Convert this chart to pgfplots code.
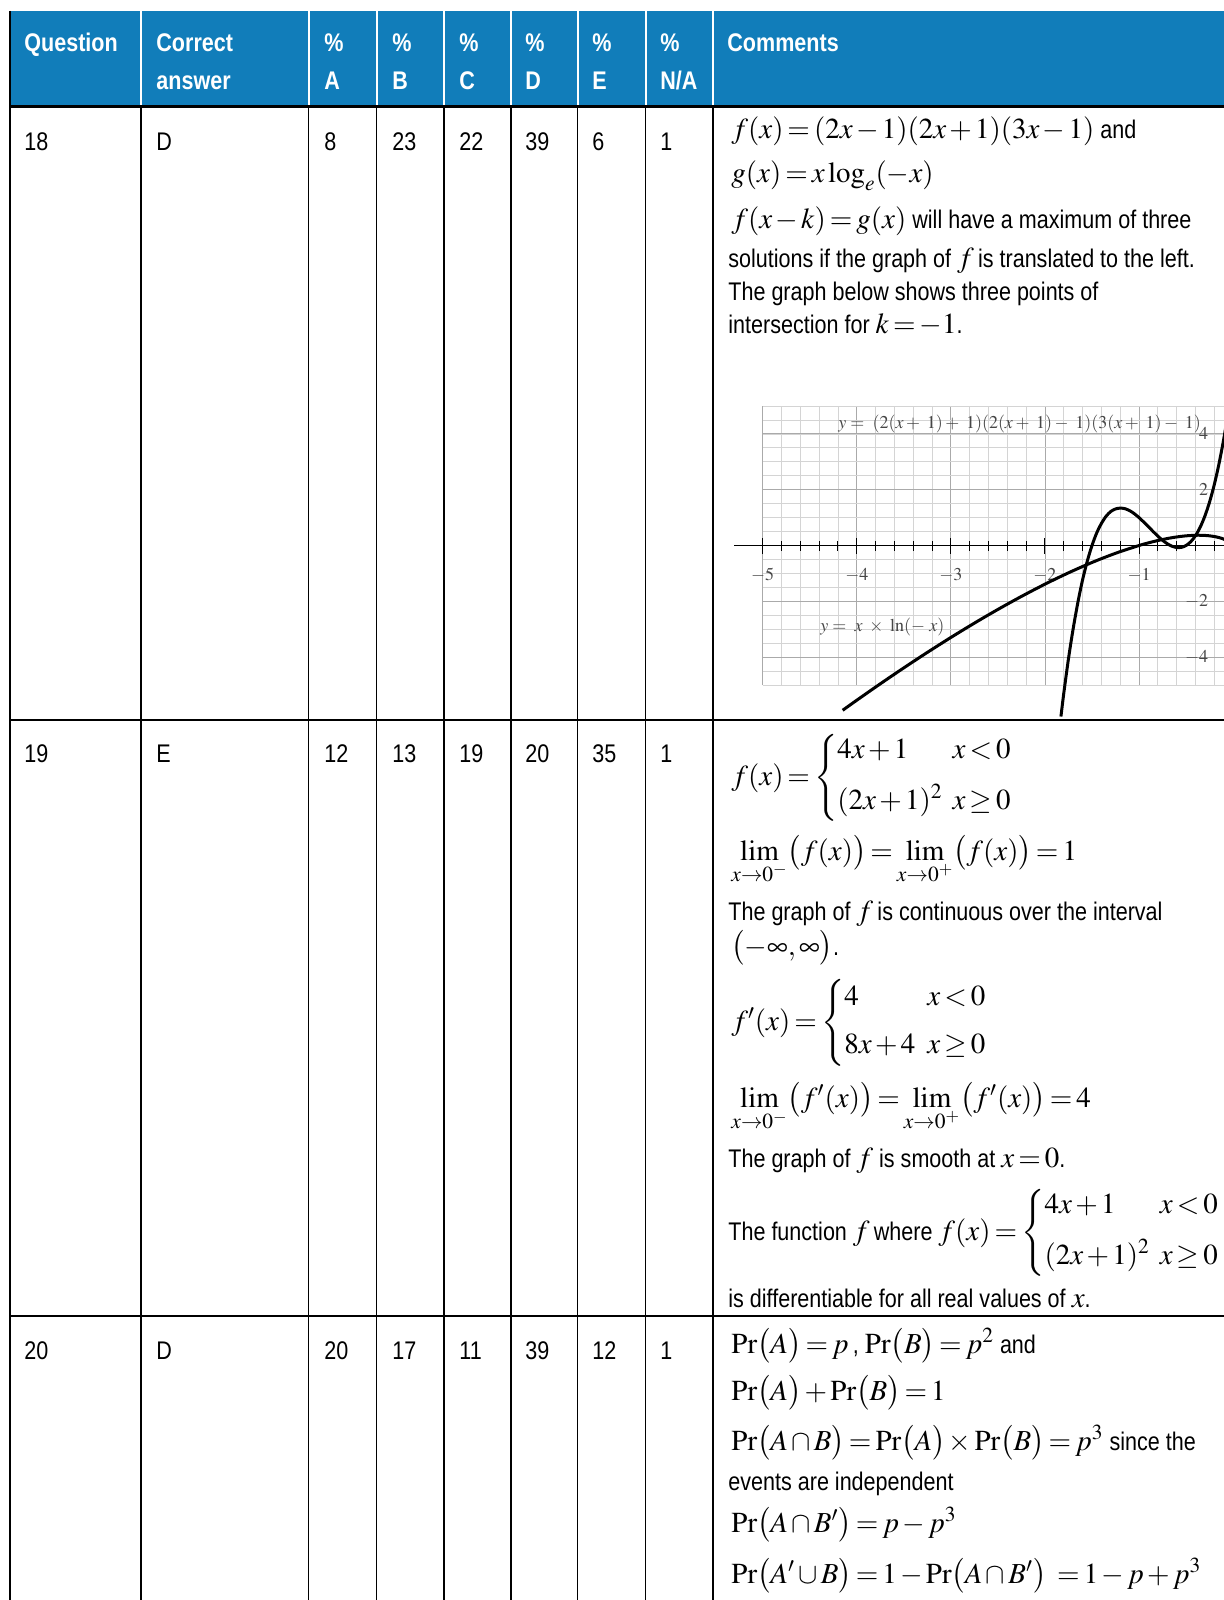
\documentclass[border=0pt]{standalone}
\usepackage{mathptmx}
\usepackage[no-math]{fontspec}
\setmainfont{Liberation Sans}[FakeStretch=0.845]
\usepackage{pgfplots}
\pgfplotsset{compat=1.18}

\definecolor{HeadBlue}{RGB}{17,125,186}
\definecolor{GridMajor}{RGB}{170,170,170}
\definecolor{GridMinor}{RGB}{212,212,212}
\definecolor{LabelGray}{RGB}{70,70,70}

\newcommand{\body}{\fontsize{12.75pt}{15pt}\selectfont}
\newcommand{\M}[1]{{\fontsize{14.5pt}{16pt}\selectfont\thickmuskip=2.5mu\medmuskip=2mu$#1$}}
\newcommand{\glabel}{\fontsize{9pt}{10pt}\selectfont}

\begin{document}
\begin{tikzpicture}
\useasboundingbox (0,0) rectangle (612pt,-800pt);
\clip (0,0) rectangle (612pt,-800pt);

% table, in pixel units of the reference
\begin{scope}[x=0.5pt,y=-0.5pt]
  \fill[HeadBlue] (10,11) rectangle (1240,107);
  \foreach \c in {141,308.5,376.5,444,511,577.5,645.5,713}
    \draw[white, line width=1pt] (\c,11) -- (\c,106);
  \foreach \c in {10,141,308.5,376.5,444,511,577.5,645.5,713}
    \draw[black, line width=0.75pt] (\c,107) -- (\c,1610);
  \draw[black, line width=0.75pt] (10,11) -- (10,107);
  \draw[black, line width=1.5pt] (9,107) -- (1240,107);
  \draw[black, line width=0.75pt] (9,720) -- (1240,720);
  \draw[black, line width=0.75pt] (9,1316) -- (1240,1316);

  \tikzset{t/.style={anchor=base west, inner sep=0pt, font=\body}}
  \tikzset{h/.style={t, text=white, font=\body\bfseries}}
  % header
  \node[h] at (24,52) {Question};
  \node[h] at (156,52) {Correct};
  \node[h] at (156,90) {answer};
  \foreach \x/\l in {324/A,392/B,459/C,525/D,592/E,660/N\slash A} {
    \node[h] at (\x,52) {\%};
    \node[h] at (\x,90) {\l};
  }
  \node[h] at (727,52) {Comments};

  % numbers
  \foreach \y/\q/\a/\pa/\pb/\pc/\pd/\pe/\pn in
      {150/18/D/8/23/22/39/6/1, 762/19/E/12/13/19/20/35/1, 1359/20/D/20/17/11/39/12/1} {
    \node[t] at (24,\y) {\q};
    \node[t] at (156,\y) {\a};
    \node[t] at (324,\y) {\pa};
    \node[t] at (392,\y) {\pb};
    \node[t] at (459,\y) {\pc};
    \node[t] at (525,\y) {\pd};
    \node[t] at (592,\y) {\pe};
    \node[t] at (660,\y) {\pn};
  }

  % comments, question 18
  \node[t] at (731,139) {\M{f(x)=(2x-1)(2x+1)(3x-1)}\ and};
  \node[t] at (731,183) {\M{g(x)=x\log_e(-x)}};
  \node[t] at (731,228) {\M{f(x-k)=g(x)}\ will have a maximum of three};
  \node[t] at (728,267) {solutions if the graph of \M{f}\,is translated to the left.};
  \node[t] at (728,300) {The graph below shows three points of};
  \node[t] at (728,333) {intersection for \M{k=-1}.};

  % comments, question 19
  \node[t] at (731,785) {\M{f(x)=\left\{\begin{array}{@{}l@{\hspace{5pt}}l@{}}
      4x+1 & x<0\\[8pt] (2x+1)^2 & x\ge 0\end{array}\right.}};
  \node[t] at (731,860) {\M{\lim\limits_{x\to0^-}\bigl(f(x)\bigr)=\lim\limits_{x\to0^+}\bigl(f(x)\bigr)=1}};
  \node[t] at (728,920) {The graph of \M{f}\,is continuous over the interval};
  \node[t] at (731,955) {\M{\bigl(-\infty,\infty\bigr)}.};
  \node[t] at (731,1030) {\M{f'(x)=\left\{\begin{array}{@{}l@{\hspace{6pt}}l@{}}
      4 & x<0\\[8pt] 8x+4 & x\ge 0\end{array}\right.}};
  \node[t] at (731,1107) {\M{\lim\limits_{x\to0^-}\bigl(f'(x)\bigr)=\lim\limits_{x\to0^+}\bigl(f'(x)\bigr)=4}};
  \node[t] at (728,1167) {The graph of \M{f}\ is smooth at \M{x=0}.};
  \node[t] at (728,1240) {The function \M{f}\,where \M{f(x)=\left\{\begin{array}{@{}l@{\hspace{5pt}}l@{}}
      4x+1 & x<0\\[8pt] (2x+1)^2 & x\ge 0\end{array}\right.}};
  \node[t] at (728,1307) {is differentiable for all real values of \M{x}.};

  % comments, question 20
  \node[t] at (731,1353) {\M{\Pr\bigl(A\bigr)=p}\,, \M{\Pr\bigl(B\bigr)=p^2}\ and};
  \node[t] at (731,1400) {\M{\Pr\bigl(A\bigr)+\Pr\bigl(B\bigr)=1}};
  \node[t] at (731,1450) {\M{\Pr\bigl(A\cap B\bigr)=\Pr\bigl(A\bigr)\times\Pr\bigl(B\bigr)=p^3}\ since the};
  \node[t] at (728,1490) {events are independent};
  \node[t] at (731,1532) {\M{\Pr\bigl(A\cap B'\bigr)=p-p^3}};
  \node[t] at (731,1583) {\M{\Pr\bigl(A'\cup B\bigr)=1-\Pr\bigl(A\cap B'\bigr)\ =1-p+p^3}};
\end{scope}

% graph inside the question 18 comment cell
\begin{axis}[
    at={(381.35pt,-342.5pt)}, anchor=south west,
    x=47.04pt, y=13.95pt,
    xmin=-5, xmax=0.6, ymin=-5, ymax=5,
    axis lines=middle,
    axis line style={-, black, line width=0.5pt},
    xtick={-5,-4,-3,-2,-1,0},
    xticklabels={$-5$,$-4$,$-3$,$-2$,$-1$,{}},
    ytick={-4,-2,0,2,4},
    yticklabels={$-4$,$-2$,{},$2$,$4$},
    minor xtick={-5,-4.8,...,0.6},
    minor ytick={-5,-4.5,...,5},
    grid=both,
    major grid style={GridMajor, line width=0.45pt},
    minor grid style={GridMinor, line width=0.4pt},
    tick align=center,
    major tick length=8pt, minor tick length=5pt,
    every tick/.style={black, line width=0.5pt},
    tick label style={font=\glabel, text=LabelGray},
    xticklabel style={anchor=north, yshift=-4pt},
    yticklabel style={anchor=east, xshift=-5pt},
    clip=false,
  ]
  \draw[black, line width=0.5pt] (axis cs:-5.3,0) -- (axis cs:-5,0);
  % y = x ln(-x)
  \addplot[black, line width=1.5pt, smooth] coordinates {
    (-4.15,-5.906) (-4.0,-5.545) (-3.75,-4.957) (-3.5,-4.385) (-3.25,-3.831)
    (-3.0,-3.296) (-2.75,-2.782) (-2.5,-2.291) (-2.25,-1.825) (-2.0,-1.386)
    (-1.75,-0.979) (-1.5,-0.608) (-1.25,-0.279) (-1.0,0) (-0.9,0.0948)
    (-0.8,0.1785) (-0.7,0.2497) (-0.6,0.3065) (-0.5,0.3466) (-0.4,0.3665)
    (-0.35,0.3674) (-0.3,0.3612) (-0.25,0.3466) (-0.2,0.3219) (-0.15,0.2846)
    (-0.1,0.2303) (-0.05,0.1498)
  };
  % y = (2(x+1)+1)(2(x+1)-1)(3(x+1)-1)
  \addplot[black, line width=1.5pt, smooth] coordinates {
    (-1.83,-6.13) (-1.8,-5.30) (-1.75,-4.06) (-1.7,-2.98) (-1.65,-2.04)
    (-1.6,-1.23) (-1.55,-0.56) (-1.5,0) (-1.45,0.45) (-1.4,0.79)
    (-1.35,1.05) (-1.3,1.22) (-1.25,1.31) (-1.2,1.34) (-1.15,1.32)
    (-1.1,1.25) (-1.05,1.14) (-1.0,1.0) (-0.95,0.84) (-0.9,0.672)
    (-0.85,0.501) (-0.8,0.336) (-0.75,0.1875) (-0.7,0.064) (-0.65,-0.0255)
    (-0.6,-0.072) (-0.55,-0.0665) (-0.5,0) (-0.45,0.1365) (-0.4,0.352)
    (-0.35,0.6555) (-0.3,1.056) (-0.25,1.5625) (-0.2,2.184) (-0.15,2.9295)
    (-0.1,3.808) (-0.05,4.8285) (-0.02,5.5127)
  };
\end{axis}

\begin{scope}[x=0.5pt,y=-0.5pt]
  \node[anchor=base west, inner sep=0pt, text=LabelGray, font=\glabel] at (838,428)
    {$y=\ (2(x+\ 1)+\ 1)(2(x+\ 1)-\ 1)(3(x+\ 1)-\ 1)$};
  \node[anchor=base west, inner sep=0pt, text=LabelGray, font=\glabel] at (820,631)
    {$y=\ x\ \times\ \ln(-\ x)$};
\end{scope}
\end{tikzpicture}
\end{document}
